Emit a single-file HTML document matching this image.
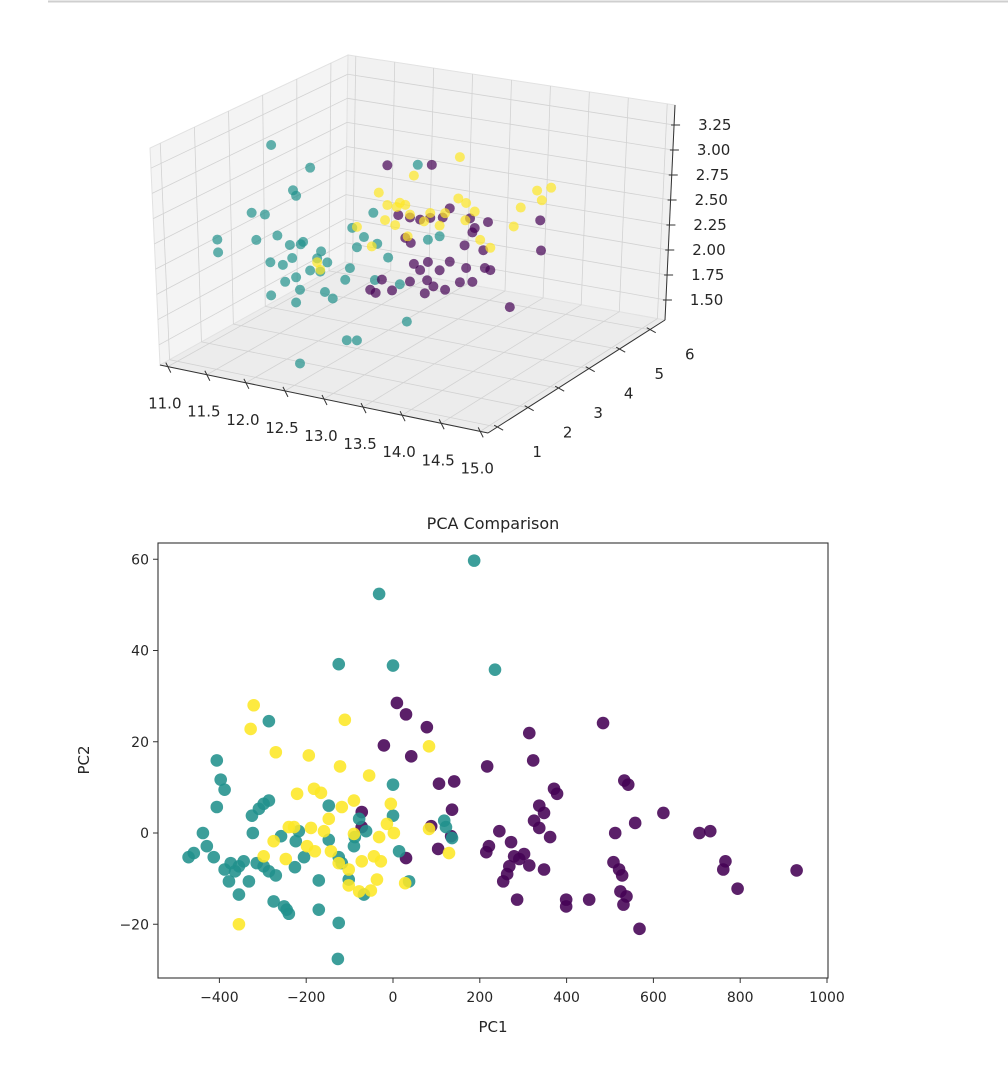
<!DOCTYPE html>
<html><head><meta charset="utf-8"><style>
body{margin:0;background:#fff;width:1008px;height:1072px;overflow:hidden;font-family:"Liberation Sans","DejaVu Sans",sans-serif;}
svg{position:absolute;left:0;top:0}
text{font-family:"DejaVu Sans","Liberation Sans",sans-serif;fill:#262626}
</style></head><body>
<svg id="chart" width="1008" height="1072" viewBox="0 0 1008 1072">
<line x1="48" y1="1.5" x2="1008" y2="1.5" stroke="#cfcfcf" stroke-width="2"/>
<g id="g3d"></g>
<g id="g2d"></g>
</svg>
<script>
// ---------- 3D data ----------
const tealX3=[11.23,11.73,11.51,11.55,10.98,11.15,10.54,10.55,11.04,11.31,11.47,11.61,11.5,11.64,11.73,11.22,11.38,11.23,11.41,11.55,11.6,11.86,11.82,11.92,12.02,12.24,12.33,12.54,12.27,12.42,12.59,12.56,12.73,12.88,12.97,12.2,12.33,11.6,11.87,11.55,12.18,13.39,13.24,13.11,11.95];
const tealZ3=[3.06,2.91,2.64,2.59,2.32,2.33,1.97,1.84,2.05,2.14,2.07,2.10,1.94,2.13,1.85,1.85,1.85,1.51,1.68,1.49,1.63,1.86,1.99,1.66,1.61,1.96,2.19,2.58,2.38,2.31,2.27,1.89,2.15,1.90,1.53,1.21,1.23,0.87,2.07,1.75,1.83,2.48,2.42,3.17,1.97];
const yelX3=[13.65,13.06,12.61,12.33,12.72,12.84,12.95,13.01,12.69,12.82,13.19,13.27,13.46,13.63,13.73,13.84,13.72,13.91,14.04,14.43,14.34,14.64,14.82,14.7,11.86,11.82,12.98,13.39,12.88,12.52];
const yelZ3=[3.34,3.05,2.80,2.40,2.69,2.69,2.73,2.64,2.53,2.50,2.60,2.70,2.73,2.91,2.88,2.81,2.70,2.53,2.47,2.95,2.74,3.16,3.22,3.07,1.88,1.95,2.41,2.59,2.74,2.23];
const purX3=[12.72,13.29,12.86,13.01,13.14,13.27,13.43,13.52,13.78,13.81,14.68,14.69,14.01,13.95,13.97,13.73,13.65,13.39,13.31,13.14,13.06,13.02,12.95,13.24,13.52,13.71,13.84,14.29,12.65,12.57,12.5,12.78,13.01,13.46,14.04,13.23,13.2,13.81];
const purZ3=[3.10,3.20,2.61,2.61,2.61,2.65,2.68,2.79,2.73,2.59,2.86,2.55,2.73,2.43,2.25,2.21,2.05,2.13,1.95,2.09,2.14,2.35,2.39,2.19,2.24,2.44,2.64,1.90,1.91,1.76,1.78,1.82,1.95,1.94,2.24,2.00,1.86,2.08];
const depthY3=3.5;
const xTicks3=[11.0,11.5,12.0,12.5,13.0,13.5,14.0,14.5,15.0];
const yTicks3=[1,2,3,4,5,6];
const zTicks3=[1.50,1.75,2.00,2.25,2.50,2.75,3.00,3.25];

// ---------- 2D data ----------
const tealPC1=[187,-32,-125,0,235,-286,-406,-397,-388,-406,-438,-429,-471,-459,-413,-374,-355,-344,-314,-286,-378,-355,-275,-251,-240,-245,-323,-309,-298,-286,-325,-298,-270,-226,-205,-171,-148,-125,-118,-102,-125,-127,-90,-88,-78,-62,0,0,14,37,-67,-148,-224,122,136,118,-171,-332,-364,-388,-258,-217];
const tealPC2=[59.7,52.4,37,36.7,35.8,24.5,15.9,11.7,9.5,5.7,0,-2.9,-5.3,-4.4,-5.3,-6.6,-7.3,-6.2,-6.6,-8.4,-10.6,-13.5,-15,-16.1,-17.7,-16.8,0,5.3,6.4,7.1,3.8,-7.3,-9.3,-7.5,-5.3,-10.4,-1.5,-5.3,-6.6,-10.2,-19.7,-27.6,-2.9,-0.9,3.1,0.4,3.8,10.6,-4,-10.6,-13.5,6,-1.8,1.3,-1.1,2.7,-16.8,-10.6,-8.4,-8,-0.7,0.4];
const yelPC1=[-321,-328,-270,-194,-111,-122,-55,-221,-182,-166,-148,-118,-240,-228,-189,-159,-90,-198,-180,-143,-125,-102,-72,-44,-28,-102,-78,-51,-37,28,-14,2,-32,-5,83,83,129,-355,-275,-247,-298,-90];
const yelPC2=[28,22.8,17.7,17,24.8,14.6,12.6,8.6,9.7,8.8,3.1,5.7,1.3,1.3,1.1,0.4,-0.2,-2.9,-4,-4,-6.6,-8,-6.2,-5.1,-6.2,-11.5,-12.8,-12.6,-10.2,-11,2,0,-0.9,6.4,19,0.9,-4.4,-20,-1.8,-5.7,-5.1,7.1];
const purPC1=[9,30,-21,42,78,106,136,141,217,314,323,484,371,378,533,542,623,558,706,731,766,761,794,930,337,348,325,245,272,337,362,291,302,279,268,263,314,348,221,286,399,399,452,508,512,521,528,524,538,531,568,104,134,88,30,-72,-72,215,254];
const purPC2=[28.5,26,19.2,16.8,23.2,10.8,5.1,11.3,14.6,21.9,15.9,24.1,9.7,8.6,11.5,10.6,4.4,2.2,0,0.4,-6.2,-8,-12.2,-8.2,6,4.4,2.7,0.4,-2,1.1,-0.9,-5.7,-4.6,-5.1,-7.3,-9,-7.1,-8,-2.9,-14.6,-14.6,-16.1,-14.6,-6.4,0,-8,-9.3,-12.8,-13.9,-15.7,-21,-3.5,-0.7,1.5,-5.5,4.6,1.3,-4.2,-10.6];
const xTicks2=[-400,-200,0,200,400,600,800,1000];
const yTicks2=[-20,0,20,40,60];

const NS="http://www.w3.org/2000/svg";
function mk(tag,attrs,parent){const e=document.createElementNS(NS,tag);for(const k in attrs)e.setAttribute(k,attrs[k]);parent.appendChild(e);return e;}

// ---------- 3D ----------
const X0=10.9,X1=15.1,Y0=0.7,Y1=6.5,Z0=1.3,Z1=3.45;
// point projection
function P(x,y,z){return [160+(x-X0)*78+(y-Y0)*30.5, 365+(x-X0)*16.2-(y-Y0)*19.5-(z-Z0)*97];}
// box projection (trilinear between corners, approximates perspective)
const C={b00:[160,365],b10:[488,433],b11:[665,320],b01:[345,262],t00:[150,148],t10:[485,228],t11:[675,105],t01:[348,55]};
function Q(x,y,z){const u=(x-X0)/(X1-X0),v=(y-Y0)/(Y1-Y0),w=(z-Z0)/(Z1-Z0);
  const r=[0,1].map(i=>{const b=C.b00[i]*(1-u)*(1-v)+C.b10[i]*u*(1-v)+C.b11[i]*u*v+C.b01[i]*(1-u)*v;
  const t=C.t00[i]*(1-u)*(1-v)+C.t10[i]*u*(1-v)+C.t11[i]*u*v+C.t01[i]*(1-u)*v;return b*(1-w)+t*w;});return r;}
const g3=document.getElementById('g3d');
function poly(pts,fill,name){const e=mk('polygon',{points:pts.map(p=>p.join(',')).join(' '),fill:fill,stroke:'#e2e2e2','stroke-width':1},g3);

}
poly([Q(X0,Y0,Z0),Q(X0,Y1,Z0),Q(X0,Y1,Z1),Q(X0,Y0,Z1)],'#f4f4f4','left-pane');
poly([Q(X0,Y1,Z0),Q(X1,Y1,Z0),Q(X1,Y1,Z1),Q(X0,Y1,Z1)],'#f1f1f1','back-pane');
poly([Q(X0,Y0,Z0),Q(X1,Y0,Z0),Q(X1,Y1,Z0),Q(X0,Y1,Z0)],'#ececec','floor-pane');
function ln(a,b,stroke,w,name,parent){const e=mk('line',{x1:a[0],y1:a[1],x2:b[0],y2:b[1],stroke:stroke,'stroke-width':w},parent||g3);

return e;}
const gc='#d2d2d2';
xTicks3.forEach(x=>{ln(Q(x,Y0,Z0),Q(x,Y1,Z0),gc,0.8,'grid-x-floor');ln(Q(x,Y1,Z0),Q(x,Y1,Z1),gc,0.8,'grid-x-back');});
yTicks3.forEach(y=>{ln(Q(X0,y,Z0),Q(X1,y,Z0),gc,0.8,'grid-y-floor');ln(Q(X0,y,Z0),Q(X0,y,Z1),gc,0.8,'grid-y-left');});
zTicks3.forEach(z=>{ln(Q(X0,Y0,z),Q(X0,Y1,z),gc,0.8,'grid-z-left');ln(Q(X0,Y1,z),Q(X1,Y1,z),gc,0.8,'grid-z-back');});
ln(Q(X0,Y0,Z0),Q(X1,Y0,Z0),'#333',1,'x-axis-line');
ln(Q(X1,Y0,Z0),Q(X1,Y1,Z0),'#333',1,'y-axis-line');
ln(Q(X1,Y1,Z0),Q(X1,Y1,Z1),'#333',1,'z-axis-line');
function txt(x,y,s,anchor,size,name,parent){const e=mk('text',{x:x,y:y,'text-anchor':anchor,'font-size':size},parent||g3);e.textContent=s;

return e;}
xTicks3.forEach(x=>{const p=Q(x,Y0,Z0);ln([p[0]-2,p[1]-4],[p[0]+3,p[1]+6],'#333',1,'x-tick');txt(p[0]-3,p[1]+42,x.toFixed(1),'middle',15,'x-tick-label');});
yTicks3.forEach(y=>{const p=Q(X1,y,Z0);ln([p[0]-3,p[1]-2],[p[0]+6,p[1]+3],'#333',1,'y-tick');txt(p[0]+40,p[1]+30,String(y),'middle',15,'y-tick-label');});
zTicks3.forEach(z=>{const p=Q(X1,Y1,z);ln([p[0]-3,p[1]],[p[0]+6,p[1]],'#333',1,'z-tick');txt(p[0]+24,p[1]+5,z.toFixed(2),'start',15,'z-tick-label');});
function pts3(xs,zs,color,name){xs.forEach((x,i)=>{const p=P(x,depthY3,zs[i]);const c=mk('circle',{cx:p[0],cy:p[1],r:5,fill:color,'fill-opacity':0.7},g3);

});}
pts3(tealX3,tealZ3,'#21918c','point-3d-class-1');
pts3(purX3,purZ3,'#440154','point-3d-class-0');
pts3(yelX3,yelZ3,'#fde725','point-3d-class-2');

// ---------- 2D ----------
const g2=document.getElementById('g2d');
const L=158,R=828,T=543,B=978;
function sx(v){return 393+v*0.434;}
function sy(v){return 833-v*4.5625;}
function pts2(xs,ys,color,name){xs.forEach((x,i)=>{const c=mk('circle',{cx:sx(x),cy:sy(ys[i]),r:6.3,fill:color,'fill-opacity':0.88},g2);

});}
pts2(purPC1,purPC2,'#440154','point-class-0');
pts2(tealPC1,tealPC2,'#21918c','point-class-1');
pts2(yelPC1,yelPC2,'#fde725','point-class-2');
const fr=mk('rect',{x:L,y:T,width:R-L,height:B-T,fill:'none',stroke:'#333','stroke-width':1.1},g2);


xTicks2.forEach(v=>{const x=sx(v);ln([x,B],[x,B+5],'#333',1,'x-tick',g2);txt(x,B+24,v<0?'\u2212'+(-v):String(v),'middle',14,'x-tick-label',g2);});
yTicks2.forEach(v=>{const y=sy(v);ln([L-5,y],[L,y],'#333',1,'y-tick',g2);txt(L-9,y+5,v<0?'\u2212'+(-v):String(v),'end',14,'y-tick-label',g2);});
txt((L+R)/2,529,'PCA Comparison','middle',16,'chart-title',g2);
txt((L+R)/2,1032,'PC1','middle',15,'x-axis-title',g2);
const yt=txt(0,0,'PC2','middle',15,'y-axis-title',g2);yt.setAttribute('transform','translate(89,760) rotate(-90)');
</script>
</body></html>
